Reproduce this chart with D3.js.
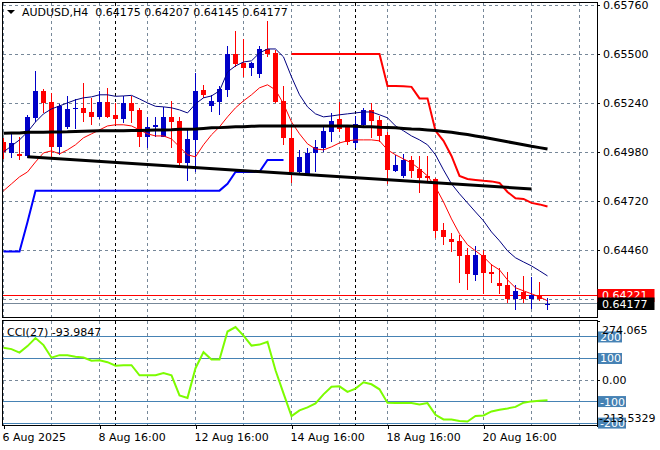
<!DOCTYPE html>
<html><head><meta charset="utf-8">
<script src="https://cdn.jsdelivr.net/npm/d3@7"></script>
<style>
body{margin:0;background:#fff;}
svg{display:block;font-family:"DejaVu Sans",sans-serif;font-size:11px;}
</style>
</head><body>
<svg id="c" width="660" height="450"></svg>
<script>
// ---------------- data ----------------
const symbol = "AUDUSD,H4";
const open = [0.65036,0.64978,0.64971,0.64960,0.65160,0.65306,0.65248,0.65006,0.65115,0.65208,
0.65213,0.65192,0.65165,0.65245,0.65176,0.65155,0.65240,0.65204,0.65062,0.65115,
0.65062,0.65168,0.65146,0.64922,0.65045,0.65310,0.65225,0.65248,0.65308,0.65501,
0.65453,0.65425,0.65394,0.65528,0.65506,0.65252,0.65054,0.64877,0.64856,0.64975,
0.65004,0.65089,0.65155,0.65112,0.65028,0.65125,0.65204,0.65151,0.65072,0.64881,
0.64851,0.64939,0.64891,0.64854,0.64838,0.64568,0.64520,0.64511,0.64436,0.64330,
0.64436,0.64347,0.64289,0.64277,0.64201,0.64241,0.64201,0.64220,0.64175];
const high = [0.65056,0.65082,0.65061,0.65178,0.65412,0.65315,0.65296,0.65236,0.65275,0.65261,
0.65349,0.65266,0.65305,0.65319,0.65240,0.65278,0.65278,0.65215,0.65165,0.65165,
0.65221,0.65253,0.65168,0.65098,0.65399,0.65337,0.65284,0.65331,0.65542,0.65623,
0.65579,0.65460,0.65542,0.65676,0.65522,0.65333,0.65125,0.64992,0.65001,0.65045,
0.65115,0.65187,0.65248,0.65125,0.65174,0.65216,0.65240,0.65174,0.65086,0.64966,
0.64969,0.64962,0.64962,0.64962,0.64842,0.64603,0.64551,0.64542,0.64471,0.64483,
0.64462,0.64388,0.64365,0.64347,0.64277,0.64324,0.64317,0.64291,0.64207];
const low = [0.64944,0.64950,0.64939,0.64950,0.65142,0.65188,0.64955,0.64966,0.65102,0.65102,
0.65142,0.65125,0.65155,0.65162,0.65125,0.65134,0.65134,0.65009,0.65001,0.65062,
0.65059,0.65001,0.64897,0.64828,0.64875,0.65268,0.65193,0.65178,0.65273,0.65432,
0.65379,0.65381,0.65374,0.65485,0.65241,0.65019,0.64816,0.64869,0.64851,0.64877,
0.64983,0.65036,0.65089,0.65019,0.65001,0.65121,0.65054,0.65036,0.64810,0.64874,
0.64845,0.64842,0.64763,0.64816,0.64524,0.64489,0.64453,0.64289,0.64250,0.64299,
0.64229,0.64286,0.64229,0.64180,0.64144,0.64180,0.64148,0.64192,0.64145];
const close = [0.64983,0.65029,0.64962,0.65165,0.65306,0.65243,0.65006,0.65225,0.65208,0.65215,
0.65190,0.65165,0.65245,0.65165,0.65155,0.65240,0.65200,0.65062,0.65115,0.65126,
0.65168,0.65142,0.64922,0.65049,0.65306,0.65284,0.65252,0.65314,0.65500,0.65446,
0.65428,0.65455,0.65526,0.65502,0.65248,0.65054,0.64877,0.64956,0.64978,0.65006,
0.65093,0.65147,0.65103,0.65036,0.65128,0.65204,0.65146,0.65068,0.64886,0.64913,
0.64939,0.64881,0.64842,0.64845,0.64563,0.64532,0.64506,0.64430,0.64335,0.64436,
0.64342,0.64333,0.64273,0.64201,0.64245,0.64201,0.64224,0.64202,0.64177];

const maNavy = [0.64981,0.65013,0.65045,0.65087,0.65140,0.65183,0.65209,0.65225,0.65241,0.65257,
0.65268,0.65273,0.65284,0.65284,0.65276,0.65278,0.65281,0.65262,0.65241,0.65223,
0.65220,0.65215,0.65204,0.65188,0.65236,0.65268,0.65278,0.65305,0.65405,0.65437,
0.65458,0.65464,0.65506,0.65527,0.65527,0.65485,0.65379,0.65284,0.65220,0.65183,
0.65167,0.65172,0.65178,0.65183,0.65188,0.65193,0.65193,0.65178,0.65162,0.65119,
0.65093,0.65066,0.65045,0.65019,0.64966,0.64886,0.64812,0.64759,0.64711,0.64663,
0.64616,0.64557,0.64510,0.64457,0.64420,0.64398,0.64377,0.64351,0.64324];
const maRed = [0.64775,0.64812,0.64849,0.64875,0.64928,0.64976,0.64987,0.64971,0.64992,0.65019,
0.65056,0.65077,0.65098,0.65119,0.65125,0.65125,0.65119,0.65098,0.65077,0.65066,
0.65066,0.65050,0.65008,0.64966,0.64955,0.65019,0.65072,0.65114,0.65167,0.65215,
0.65252,0.65284,0.65321,0.65337,0.65310,0.65236,0.65140,0.65077,0.65024,0.64997,
0.64992,0.65008,0.65029,0.65040,0.65045,0.65045,0.65045,0.65040,0.64992,0.64966,
0.64944,0.64923,0.64891,0.64854,0.64796,0.64716,0.64626,0.64547,0.64489,0.64457,
0.64425,0.64383,0.64356,0.64303,0.64261,0.64245,0.64229,0.64213,0.64192];
const maSlow = [0.65080,0.65081,0.65082,0.65085,0.65086,0.65086,0.65087,0.65087,0.65088,0.65090,
0.65091,0.65092,0.65093,0.65093,0.65094,0.65094,0.65095,0.65095,0.65096,0.65097,
0.65098,0.65099,0.65101,0.65102,0.65103,0.65106,0.65109,0.65110,0.65112,0.65114,
0.65115,0.65117,0.65118,0.65119,0.65119,0.65119,0.65119,0.65119,0.65119,0.65119,
0.65119,0.65119,0.65119,0.65118,0.65117,0.65115,0.65114,0.65112,0.65111,0.65109,
0.65106,0.65103,0.65101,0.65098,0.65095,0.65090,0.65085,0.65079,0.65073,0.65066,
0.65059,0.65051,0.65043,0.65035,0.65027,0.65019,0.65011,0.65004,0.64997];
// support trail: bars 0..35
const supportTrail = [0.64453,0.64453,0.64453,0.64610,0.64776,0.64776,0.64776,0.64776,0.64776,0.64776,
0.64776,0.64776,0.64776,0.64776,0.64776,0.64776,0.64776,0.64776,0.64776,0.64776,
0.64776,0.64776,0.64776,0.64776,0.64776,0.64776,0.64776,0.64776,0.64812,0.64875,
0.64875,0.64875,0.64876,0.64939,0.64939,0.64939];
// resistance trail: bars 36..68
const resistTrail = [0.65500,0.65500,0.65500,0.65500,0.65500,0.65500,0.65500,0.65500,0.65500,0.65500,
0.65500,0.65500,0.65331,0.65331,0.65329,0.65326,0.65265,0.65265,0.65093,0.65040,
0.64960,0.64854,0.64838,0.64833,0.64828,0.64825,0.64817,0.64769,0.64736,0.64732,
0.64711,0.64703,0.64692];
const trendBars = [3, 66];
const trendPrices = [0.64955, 0.64785];

const cci = [149.5,143.4,127.1,157.4,194.8,162.1,103.8,115.4,115.4,108.4,
104.7,89.8,92.1,82.8,66.4,68.8,68.8,22.1,22.1,22.1,
32.8,22.1,-71.2,-82.9,54.8,129.4,95.4,95.4,225.1,246.1,
206.4,159.8,164.4,177.5,45.4,-61.9,-167.8,-141.2,-127.2,-108.5,
-66.5,-31.5,-29.2,-54.9,-39.9,-10.5,-19.9,-43.2,-106.2,-107.1,
-107.1,-107.1,-113.2,-107.1,-161.3,-183.2,-183.2,-190.2,-192.5,-166.9,
-164.5,-145.9,-137.9,-131.9,-124.9,-105.3,-99.2,-95.9,-93.9847];
const cciLabel = "CCI(27) -93.9847";
const cciMax = 274.065, cciMin = -213.5329;
const cciLevels = [200, 100, -100, -200];

const priceTicks = [0.65760, 0.65500, 0.65240, 0.64980, 0.64720, 0.64460];
const gridPrices = [0.65760, 0.65500, 0.65240, 0.64980, 0.64720, 0.64460, 0.64200];
const timeLabels = ["6 Aug 2025","8 Aug 16:00","12 Aug 16:00","14 Aug 16:00","18 Aug 16:00","20 Aug 16:00"];
const timeLabelBars = [0, 12, 24, 36, 48, 60];
const weekSeparatorBars = [14, 44];
const bidPrice = 0.64177, askPrice = 0.64221;

// ---------------- layout ----------------
const svg = d3.select("#c");
const L = 2.5, R = 597, T = 2.5, B = 317.5;   // main panel
const CT = 320.5, CB = 425.5;                 // cci panel
const n = close.length;
const x = d3.scaleLinear().domain([0, n - 1]).range([3.5, 547.5]);
const y = d3.scaleLinear().domain([0.64200, 0.65760]).range([299.3, 5]);
const yc = d3.scaleLinear().domain([cciMin, cciMax]).range([426, 321]);
const crisp = v => Math.round(v - 0.5) + 0.5;
const gridColor = "#778899";
const bullColor = "#0000c8", bearColor = "#ff0000";

svg.append("rect").attr("width",660).attr("height",450).attr("fill","#fff");
const defs = svg.append("defs");
defs.append("clipPath").attr("id","cm").append("rect").attr("x",L).attr("y",T).attr("width",R-L).attr("height",B-T);
defs.append("clipPath").attr("id","cc").append("rect").attr("x",L).attr("y",CT).attr("width",R-L).attr("height",CB-CT);

const gm = svg.append("g").attr("clip-path","url(#cm)");
const gc = svg.append("g").attr("clip-path","url(#cc)");

// vertical grid (every 6 bars)
const vGrid = d3.range(0, 74, 6);
[ [gm,T,B], [gc,CT,CB] ].forEach(([g,t,b]) => {
  g.selectAll(null).data(vGrid).enter().append("line")
    .attr("x1", d => crisp(x(d))).attr("x2", d => crisp(x(d)))
    .attr("y1", t).attr("y2", b)
    .attr("stroke", gridColor).attr("stroke-dasharray","3,3").attr("shape-rendering","crispEdges");
  g.selectAll(null).data(weekSeparatorBars).enter().append("line")
    .attr("x1", d => crisp(x(d))).attr("x2", d => crisp(x(d)))
    .attr("y1", t).attr("y2", b)
    .attr("stroke", "#000").attr("stroke-dasharray","3,3").attr("shape-rendering","crispEdges");
});
// horizontal grid main
gm.selectAll(null).data(gridPrices).enter().append("line")
  .attr("x1", L).attr("x2", R).attr("y1", d => crisp(y(d))).attr("y2", d => crisp(y(d)))
  .attr("stroke", gridColor).attr("stroke-dasharray","3,3").attr("shape-rendering","crispEdges");
// cci zero grid + levels
gc.append("line").attr("x1",L).attr("x2",R).attr("y1",crisp(yc(0))).attr("y2",crisp(yc(0)))
  .attr("stroke",gridColor).attr("stroke-dasharray","3,3").attr("shape-rendering","crispEdges");
gc.selectAll(null).data(cciLevels).enter().append("line")
  .attr("x1",L).attr("x2",R).attr("y1",d=>crisp(yc(d))).attr("y2",d=>crisp(yc(d)))
  .attr("stroke","#4682b4").attr("shape-rendering","crispEdges");

// ask / bid lines
gm.append("line").attr("x1",L).attr("x2",R).attr("y1",crisp(y(askPrice))).attr("y2",crisp(y(askPrice)))
  .attr("stroke","#ff0000").attr("shape-rendering","crispEdges");
gm.append("line").attr("x1",L).attr("x2",R).attr("y1",crisp(y(bidPrice))).attr("y2",crisp(y(bidPrice)))
  .attr("stroke",gridColor).attr("shape-rendering","crispEdges");

// candles
const idx = d3.range(n);
const col = i => close[i] >= open[i] ? bullColor : bearColor;
gm.selectAll(null).data(idx).enter().append("line")
  .attr("x1", i => x(i)).attr("x2", i => x(i))
  .attr("y1", i => Math.round(y(high[i]))).attr("y2", i => Math.round(y(low[i])))
  .attr("stroke", col).attr("shape-rendering","crispEdges");
gm.selectAll(null).data(idx).enter().append("rect")
  .attr("x", i => x(i) - 2.5).attr("width", 5)
  .attr("y", i => Math.round(y(Math.max(open[i], close[i]))))
  .attr("height", i => Math.max(1, Math.round(y(Math.min(open[i], close[i]))) - Math.round(y(Math.max(open[i], close[i])))))
  .attr("fill", col).attr("shape-rendering","crispEdges");

// indicator lines
const line = (arr, off) => d3.line().x((d,i)=>x(i+off)).y(d=>y(d))(arr);
gm.append("path").attr("d", line(maNavy,0)).attr("fill","none").attr("stroke","#000080").attr("stroke-width",1);
gm.append("path").attr("d", line(maRed,0)).attr("fill","none").attr("stroke","#ff0000").attr("stroke-width",1);
gm.append("path").attr("d", line(supportTrail,0)).attr("fill","none").attr("stroke","#0000ff").attr("stroke-width",2);
gm.append("path").attr("d", line(resistTrail,36)).attr("fill","none").attr("stroke","#ff0000").attr("stroke-width",2);
gm.append("path").attr("d", line(maSlow,0)).attr("fill","none").attr("stroke","#000").attr("stroke-width",3);
gm.append("line").attr("x1",x(trendBars[0])).attr("y1",y(trendPrices[0]))
  .attr("x2",x(trendBars[1])).attr("y2",y(trendPrices[1]))
  .attr("stroke","#000").attr("stroke-width",3);

// cci line
gc.append("path").attr("d", d3.line().x((d,i)=>x(i)).y(d=>yc(d))(cci))
  .attr("fill","none").attr("stroke","#7cfc00").attr("stroke-width",2);

// panel borders
svg.append("rect").attr("x",L).attr("y",T).attr("width",R-L).attr("height",B-T)
  .attr("fill","none").attr("stroke","#000").attr("shape-rendering","crispEdges");
svg.append("rect").attr("x",L).attr("y",CT).attr("width",R-L).attr("height",CB-CT)
  .attr("fill","none").attr("stroke","#000").attr("shape-rendering","crispEdges");

// price axis
const pa = svg.append("g").attr("transform",`translate(${R},0)`)
  .call(d3.axisRight(y).tickValues(priceTicks).tickFormat(d3.format(".5f")).tickSize(3).tickPadding(3));
pa.select(".domain").remove();
pa.selectAll("text").attr("font-family","DejaVu Sans").attr("font-size",11).attr("fill","#000");
pa.selectAll("line").attr("shape-rendering","crispEdges");

// price tags
svg.append("rect").attr("x",597.5).attr("y",289).attr("width",57).attr("height",13).attr("fill","#ff0000");
svg.append("text").attr("x",602).attr("y",y(askPrice)).attr("dy","0.35em").attr("fill","#fff").text(d3.format(".5f")(askPrice));
svg.append("rect").attr("x",597.5).attr("y",297.5).attr("width",57).attr("height",12.5).attr("fill","#000");
svg.append("text").attr("x",602).attr("y",y(bidPrice)).attr("dy","0.4em").attr("fill","#fff").text(d3.format(".5f")(bidPrice));

// cci axis
const cciTickVals = [cciMax, 200, 100, 0, -100, -200, cciMin];
svg.selectAll(null).data(cciTickVals).enter().append("line")
  .attr("x1",R).attr("x2",R+3).attr("y1",d=>crisp(yc(d))).attr("y2",d=>crisp(yc(d)))
  .attr("stroke","#000").attr("shape-rendering","crispEdges");
const lvlG = svg.selectAll(null).data(cciLevels).enter().append("g");
lvlG.append("rect").attr("x",598).attr("y",d=>yc(d)-5.5).attr("height",11)
  .attr("width",d=>d<0?28:24).attr("fill","#4682b4");
lvlG.append("text").attr("x",600).attr("y",d=>yc(d)).attr("dy","0.36em").attr("fill","#fff").text(d=>d);
svg.append("text").attr("x",602).attr("y",yc(0)).attr("dy","0.36em").attr("fill","#000").text("0.00");
svg.append("text").attr("x",602).attr("y",334).attr("fill","#000").text(cciMax);
svg.append("text").attr("x",599).attr("y",421.5).attr("fill","#000").text(cciMin);

// time axis
const ta = svg.append("g").attr("transform",`translate(0,${CB})`)
  .call(d3.axisBottom(x).tickValues(timeLabelBars).tickFormat((d,i)=>timeLabels[i]).tickSize(3).tickPadding(3));
ta.select(".domain").remove();
ta.selectAll("text").attr("text-anchor","start").attr("dx","-1.5").attr("dy","0.9em")
  .attr("font-family","DejaVu Sans").attr("font-size",11).attr("fill","#000");
ta.selectAll("line").attr("shape-rendering","crispEdges");

// titles
svg.append("path").attr("d","M7,10 L15,10 L11,14 Z").attr("fill","#000");
svg.append("text").attr("x",22).attr("y",16).attr("fill","#000").attr("xml:space","preserve")
  .text(`${symbol}  ${d3.format(".5f")(open[n-1])} ${d3.format(".5f")(high[n-1])} ${d3.format(".5f")(low[n-1])} ${d3.format(".5f")(close[n-1])}`);
svg.append("text").attr("x",7).attr("y",335.5).attr("fill","#000").text(cciLabel);
</script>
</body></html>
